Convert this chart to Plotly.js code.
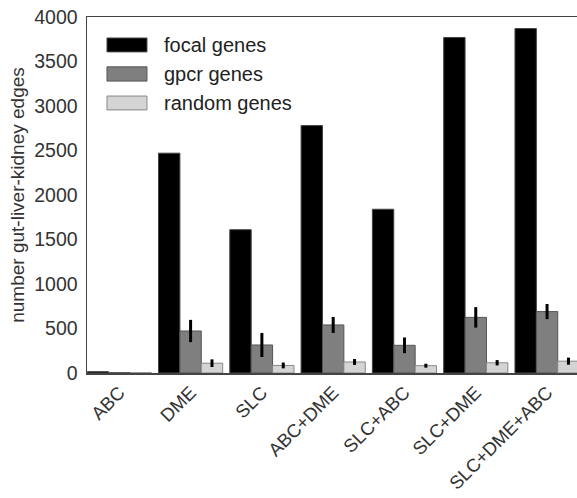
<!DOCTYPE html>
<html>
<head>
<meta charset="utf-8">
<script src="https://cdn.plot.ly/plotly-3.0.1.min.js"></script>
<style>html,body{margin:0;padding:0;background:#fff;}#chart{width:577px;height:498px;}</style>
</head>
<body>
<div id="chart"></div>
<script>
const categories = ["ABC", "DME", "SLC", "ABC+DME", "SLC+ABC", "SLC+DME", "SLC+DME+ABC"];
const focalValues = [15, 2470, 1610, 2780, 1840, 3770, 3870];
const gpcrValues = [5, 472, 315, 540, 311, 625, 690];
const gpcrErrors = [0, 125, 135, 90, 88, 115, 85];
const randomValues = [3, 110, 85, 124, 82, 115, 133];
const randomErrors = [0, 43, 33, 33, 22, 30, 40];
const seriesNames = ["focal genes", "gpcr genes", "random genes"];
const yTicks = [0, 500, 1000, 1500, 2000, 2500, 3000, 3500, 4000];

const fam = "Liberation Sans, Arial, sans-serif";
const tickFont = {family: fam, size: 19.5, color: "#333"};
const xTickFont = {family: fam, size: 18.5, color: "#333"};
const xIdx = categories.map((c, i) => i);

const traces = [
  {type: "bar", name: seriesNames[0], x: xIdx, y: focalValues,
   marker: {color: "#000", line: {color: "#444", width: 1}}},
  {type: "bar", name: seriesNames[1], x: xIdx, y: gpcrValues,
   marker: {color: "#7f7f7f", line: {color: "#555", width: 1}},
   error_y: {type: "data", array: gpcrErrors, visible: true, color: "#000", thickness: 3, width: 0}},
  {type: "bar", name: seriesNames[2], x: xIdx, y: randomValues,
   marker: {color: "#d4d4d4", line: {color: "#888", width: 1}},
   error_y: {type: "data", array: randomErrors, visible: true, color: "#000", thickness: 3, width: 0}}
];

const swatchColors = ["#000", "#7f7f7f", "#d4d4d4"];
const swatchLines = ["#444", "#555", "#888"];
const swatchY = [[0.902, 0.941], [0.820, 0.860], [0.739, 0.778]];
const labelY = [0.921, 0.840, 0.758];
const shapes = seriesNames.map((n, i) => ({
  type: "rect", xref: "paper", yref: "paper",
  x0: 0.0408, x1: 0.1224, y0: swatchY[i][0], y1: swatchY[i][1],
  fillcolor: swatchColors[i], line: {color: swatchLines[i], width: 1}
}));
const annotations = seriesNames.map((n, i) => ({
  xref: "paper", yref: "paper", x: 0.153, y: labelY[i],
  xanchor: "left", yanchor: "middle", text: n, showarrow: false,
  font: {family: fam, size: 20, color: "#222"}
}));

const layout = {
  width: 577, height: 498,
  margin: {l: 87, r: 0, t: 17, b: 125},
  paper_bgcolor: "#fff", plot_bgcolor: "#fff",
  barmode: "group", bargap: 0.1, bargroupgap: 0,
  showlegend: false,
  font: tickFont,
  xaxis: {
    range: [-0.453, 6.42], tickmode: "array", tickvals: xIdx, ticktext: categories,
    tickangle: -45, showline: true, mirror: true, linecolor: "#444", linewidth: 1.5,
    showgrid: false, zeroline: false, ticks: "", tickfont: xTickFont
  },
  yaxis: {
    range: [0, 4000], tickmode: "array", tickvals: yTicks,
    showline: true, linecolor: "#444", linewidth: 1.5, showgrid: false, zeroline: false,
    ticks: "", tickfont: tickFont, ticklabelstandoff: 4,
    title: {text: "number gut-liver-kidney edges", font: {family: fam, size: 19, color: "#333"}, standoff: 4}
  },
  shapes: shapes,
  annotations: annotations
};

Plotly.newPlot("chart", traces, layout, {displayModeBar: false, staticPlot: true});
</script>
</body>
</html>
